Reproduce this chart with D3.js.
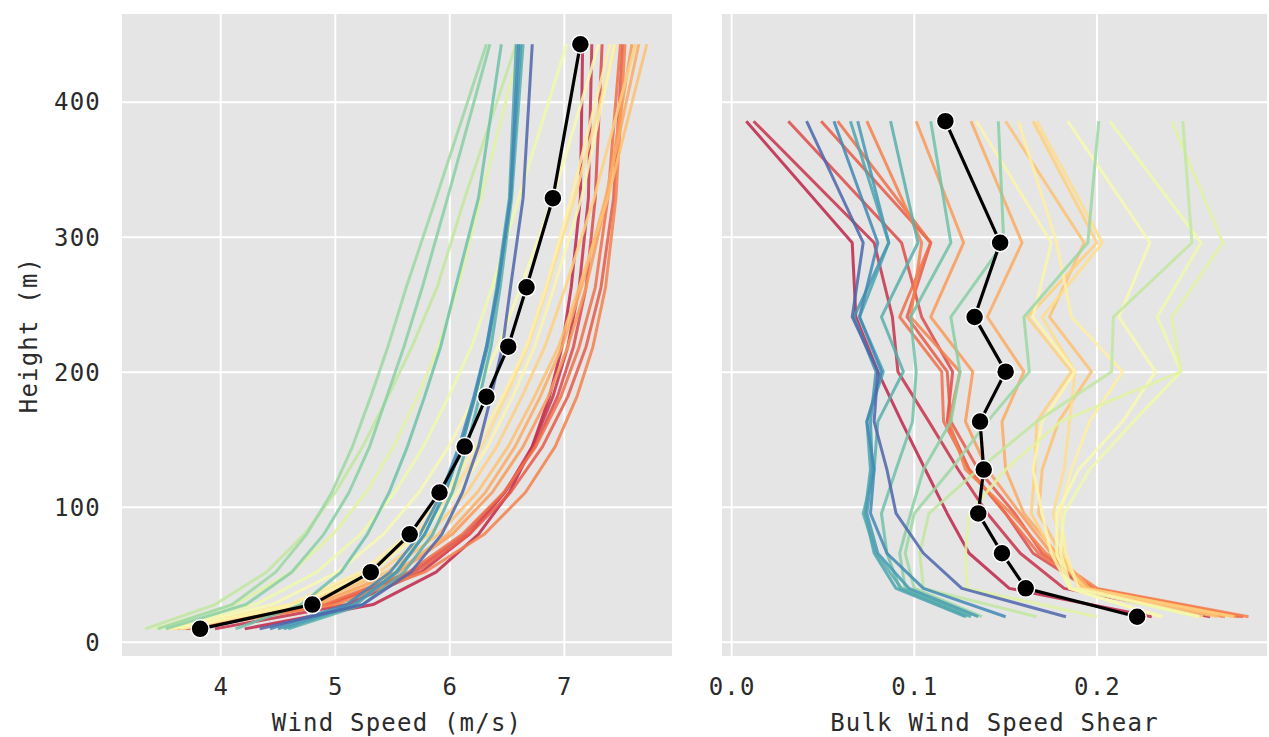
<!DOCTYPE html>
<html>
<head>
<meta charset="utf-8">
<script src="https://cdn.jsdelivr.net/npm/d3@7"></script>
<style>
  body { margin: 0; background: #fff; }
  text { font-family: "DejaVu Sans Mono", monospace; }
</style>
</head>
<body>
<svg id="chart" width="1269" height="737"></svg>
<script>
// ---- data ----
var heights = [10, 28, 52, 80, 111, 145, 182, 219, 263, 329, 443];
var shearHeights = [19, 40, 66, 95.5, 128, 163.5, 200.5, 241, 296, 386];

var meanSpeed = [3.82, 4.80, 5.31, 5.65, 5.91, 6.13, 6.32, 6.51, 6.67, 6.90, 7.14];
var meanShear = [0.222, 0.161, 0.148, 0.135, 0.138, 0.136, 0.150, 0.133, 0.147, 0.117];

// position of each profile on the Spectral colour map
var profileColors = [0.06, 0.08, 0.13, 0.16, 0.20, 0.23, 0.27, 0.30, 0.34, 0.37, 0.40, 0.45, 0.48,
                     0.52, 0.55, 0.60, 0.66, 0.72, 0.75, 0.79, 0.83, 0.85, 0.87, 0.90, 0.96];

var speedProfiles = [
  [4.21, 5.33, 5.88, 6.25, 6.52, 6.72, 6.87, 6.98, 7.06, 7.14, 7.16],
  [3.95, 5.10, 5.75, 6.17, 6.48, 6.72, 6.90, 7.03, 7.13, 7.21, 7.24],
  [3.72, 4.93, 5.67, 6.13, 6.48, 6.74, 6.94, 7.08, 7.19, 7.27, 7.33],
  [3.70, 4.95, 5.70, 6.17, 6.53, 6.81, 7.03, 7.19, 7.32, 7.43, 7.51],
  [3.66, 4.90, 5.64, 6.11, 6.47, 6.75, 6.97, 7.13, 7.27, 7.38, 7.49],
  [3.72, 5.00, 5.78, 6.30, 6.66, 6.92, 7.11, 7.25, 7.36, 7.45, 7.53],
  [3.62, 4.82, 5.55, 6.02, 6.37, 6.64, 6.86, 7.03, 7.19, 7.37, 7.59],
  [3.64, 4.84, 5.53, 5.98, 6.31, 6.57, 6.79, 6.98, 7.15, 7.36, 7.65],
  [3.60, 4.76, 5.45, 5.90, 6.24, 6.51, 6.74, 6.95, 7.13, 7.38, 7.72],
  [3.58, 4.70, 5.38, 5.82, 6.15, 6.41, 6.63, 6.83, 7.01, 7.26, 7.62],
  [3.56, 4.62, 5.27, 5.70, 6.02, 6.28, 6.49, 6.68, 6.85, 7.09, 7.45],
  [3.60, 4.60, 5.22, 5.64, 5.97, 6.23, 6.46, 6.67, 6.84, 7.06, 7.40],
  [3.65, 4.67, 5.31, 5.74, 6.07, 6.33, 6.55, 6.74, 6.91, 7.15, 7.44],
  [3.55, 4.45, 5.02, 5.42, 5.73, 5.99, 6.22, 6.42, 6.62, 6.90, 7.30],
  [3.50, 4.30, 4.84, 5.22, 5.52, 5.77, 5.99, 6.19, 6.37, 6.60, 7.02],
  [3.42, 4.12, 4.62, 4.98, 5.27, 5.51, 5.72, 5.90, 6.07, 6.27, 6.62],
  [3.34, 3.95, 4.40, 4.73, 5.00, 5.24, 5.46, 5.67, 5.89, 6.13, 6.58],
  [3.45, 4.10, 4.48, 4.75, 4.97, 5.15, 5.31, 5.46, 5.62, 5.88, 6.32],
  [3.52, 4.22, 4.62, 4.90, 5.12, 5.30, 5.45, 5.60, 5.76, 5.98, 6.35],
  [4.13, 4.70, 5.05, 5.28, 5.47, 5.63, 5.78, 5.92, 6.05, 6.25, 6.45],
  [4.59, 5.24, 5.60, 5.85, 6.02, 6.15, 6.26, 6.36, 6.44, 6.54, 6.64],
  [4.55, 5.18, 5.54, 5.78, 5.96, 6.10, 6.22, 6.32, 6.41, 6.52, 6.58],
  [4.50, 5.16, 5.53, 5.78, 5.96, 6.10, 6.22, 6.33, 6.42, 6.53, 6.62],
  [4.43, 5.10, 5.48, 5.74, 5.93, 6.08, 6.21, 6.32, 6.42, 6.53, 6.60],
  [4.34, 5.24, 5.66, 5.93, 6.11, 6.25, 6.36, 6.46, 6.53, 6.64, 6.72]
];

var shearProfiles = [
  [0.230, 0.152, 0.130, 0.118, 0.106, 0.093, 0.080, 0.068, 0.066, 0.008],
  [0.262, 0.182, 0.158, 0.140, 0.124, 0.108, 0.091, 0.088, 0.078, 0.012],
  [0.270, 0.195, 0.165, 0.150, 0.130, 0.118, 0.121, 0.104, 0.093, 0.031],
  [0.280, 0.198, 0.170, 0.155, 0.135, 0.120, 0.118, 0.096, 0.109, 0.049],
  [0.278, 0.197, 0.168, 0.150, 0.130, 0.116, 0.115, 0.092, 0.109, 0.058],
  [0.283, 0.200, 0.172, 0.153, 0.128, 0.119, 0.125, 0.098, 0.104, 0.074],
  [0.276, 0.195, 0.175, 0.158, 0.140, 0.128, 0.132, 0.109, 0.127, 0.101],
  [0.270, 0.196, 0.178, 0.160, 0.150, 0.148, 0.160, 0.140, 0.159, 0.131],
  [0.266, 0.192, 0.180, 0.168, 0.170, 0.179, 0.197, 0.174, 0.193, 0.150],
  [0.275, 0.194, 0.176, 0.164, 0.166, 0.167, 0.186, 0.162, 0.200, 0.165],
  [0.258, 0.190, 0.182, 0.176, 0.182, 0.185, 0.188, 0.170, 0.203, 0.167],
  [0.256, 0.190, 0.183, 0.180, 0.186, 0.196, 0.214, 0.186, 0.178, 0.157],
  [0.236, 0.185, 0.175, 0.170, 0.165, 0.170, 0.188, 0.165, 0.175, 0.134],
  [0.235, 0.185, 0.178, 0.178, 0.190, 0.214, 0.232, 0.212, 0.229, 0.184],
  [0.256, 0.186, 0.180, 0.182, 0.196, 0.220, 0.246, 0.233, 0.257, 0.207],
  [0.200, 0.129, 0.128, 0.130, 0.150, 0.180, 0.246, 0.241, 0.269, 0.241],
  [0.167, 0.105, 0.103, 0.108, 0.135, 0.167, 0.208, 0.209, 0.252, 0.247],
  [0.137, 0.100, 0.095, 0.100, 0.120, 0.140, 0.163, 0.160, 0.195, 0.201],
  [0.131, 0.095, 0.092, 0.098, 0.105, 0.120, 0.125, 0.120, 0.149, 0.146],
  [0.129, 0.092, 0.085, 0.082, 0.090, 0.099, 0.101, 0.098, 0.120, 0.109],
  [0.131, 0.093, 0.079, 0.072, 0.078, 0.080, 0.094, 0.082, 0.102, 0.087],
  [0.128, 0.090, 0.078, 0.073, 0.076, 0.074, 0.083, 0.070, 0.086, 0.065],
  [0.135, 0.097, 0.080, 0.074, 0.077, 0.076, 0.079, 0.067, 0.086, 0.069],
  [0.150, 0.105, 0.085, 0.076, 0.078, 0.074, 0.082, 0.070, 0.080, 0.056],
  [0.183, 0.126, 0.105, 0.090, 0.085, 0.078, 0.080, 0.066, 0.072, 0.041]
];

var speedTicks = [4, 5, 6, 7];
var shearTicks = [0.0, 0.1, 0.2];
var heightTicks = [0, 100, 200, 300, 400];

// ---- layout ----
var PANEL_TOP = 14, PANEL_BOTTOM = 656;
var left_panel = {x0: 122, x1: 672};
var right_panel = {x0: 722, x1: 1267};
var FONT_SIZE = 24;

var svg = d3.select("#chart");

var y = d3.scaleLinear().domain([-10.1, 465.4]).range([PANEL_BOTTOM, PANEL_TOP]);
var x_speed = d3.scaleLinear().domain([3.138, 7.940]).range([left_panel.x0, left_panel.x1]);
var x_shear = d3.scaleLinear().domain([-0.0053, 0.2931]).range([right_panel.x0, right_panel.x1]);

function style_text(sel) {
  sel.attr("font-size", FONT_SIZE)
    .attr("fill", "#2b2b2b")
    .attr("font-family", "DejaVu Sans Mono")
    .style("letter-spacing", "1.2px");
}

function build_panel(xscale, xticks, fmt, title, profiles, ys, mean) {

  var g = svg.append("g");
  var x0 = xscale.range()[0], x1 = xscale.range()[1];

  g.append("rect")
    .attr("x", x0).attr("y", PANEL_TOP)
    .attr("width", x1 - x0).attr("height", PANEL_BOTTOM - PANEL_TOP)
    .attr("fill", "#e5e5e5");

  // grid
  g.selectAll(".vgrid").data(xticks).enter().append("line")
    .attr("x1", d => xscale(d)).attr("x2", d => xscale(d))
    .attr("y1", PANEL_TOP).attr("y2", PANEL_BOTTOM)
    .attr("stroke", "#fff").attr("stroke-width", 2);
  g.selectAll(".hgrid").data(heightTicks).enter().append("line")
    .attr("x1", x0).attr("x2", x1)
    .attr("y1", d => y(d)).attr("y2", d => y(d))
    .attr("stroke", "#fff").attr("stroke-width", 2);

  var line = d3.line()
    .x(d => xscale(d[0]))
    .y(d => y(d[1]));

  g.selectAll(".profile").data(profiles).enter().append("path")
    .attr("d", (p) => line(p.map((v, i) => [v, ys[i]])))
    .attr("fill", "none")
    .attr("stroke", (p, i) => d3.interpolateSpectral(profileColors[i]))
    .attr("stroke-width", 3)
    .attr("stroke-opacity", 0.85)
    .attr("stroke-linejoin", "round");

  var meanPts = mean.map((v, i) => [v, ys[i]]);
  g.append("path")
    .attr("d", line(meanPts))
    .attr("fill", "none")
    .attr("stroke", "#000")
    .attr("stroke-width", 3.2);
  g.selectAll(".meanpt").data(meanPts).enter().append("circle")
    .attr("cx", d => xscale(d[0])).attr("cy", d => y(d[1]))
    .attr("r", 9)
    .attr("fill", "#000")
    .attr("stroke", "#fff")
    .attr("stroke-width", 1.5);

  // x axis labels
  var ax = g.append("g")
    .attr("transform", "translate(0," + PANEL_BOTTOM + ")")
    .call(d3.axisBottom(xscale).tickValues(xticks).tickFormat(fmt).tickSize(0).tickPadding(22));
  ax.select(".domain").remove();
  ax.selectAll("text").call(style_text);

  g.append("text")
    .attr("x", (x0 + x1) / 2).attr("y", 731)
    .attr("text-anchor", "middle")
    .call(style_text)
    .text(title);

  return g;
}

build_panel(x_speed, speedTicks, d3.format("d"), "Wind Speed (m/s)",
            speedProfiles, heights, meanSpeed);
build_panel(x_shear, shearTicks, d3.format(".1f"), "Bulk Wind Speed Shear",
            shearProfiles, shearHeights, meanShear);

// shared y axis on the left panel
var yax = svg.append("g")
  .attr("transform", "translate(" + left_panel.x0 + ",0)")
  .call(d3.axisLeft(y).tickValues(heightTicks).tickFormat(d3.format("d")).tickSize(0).tickPadding(21));
yax.select(".domain").remove();
yax.selectAll("text").call(style_text);

svg.append("text")
  .attr("transform", "translate(37," + ((PANEL_TOP + PANEL_BOTTOM) / 2) + ") rotate(-90)")
  .attr("text-anchor", "middle")
  .call(style_text)
  .text("Height (m)");
</script>
</body>
</html>
